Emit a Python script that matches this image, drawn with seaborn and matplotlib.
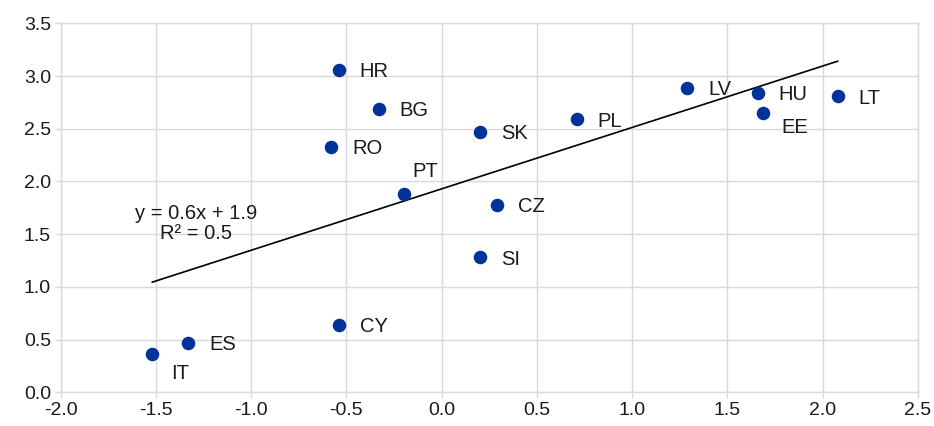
import matplotlib
matplotlib.use("Agg")
import matplotlib.pyplot as plt
import seaborn as sns
import pandas as pd

# Country codes and their coordinates
countries = ["HR", "BG", "RO", "PT", "SK", "PL", "LV", "HU", "EE", "LT",
             "CZ", "SI", "CY", "ES", "IT"]
x_vals = [-0.54, -0.33, -0.58, -0.20, 0.20, 0.71, 1.29, 1.66, 1.69, 2.08,
          0.29, 0.20, -0.54, -1.33, -1.52]
y_vals = [3.06, 2.69, 2.33, 1.88, 2.47, 2.59, 2.89, 2.84, 2.65, 2.81,
          1.78, 1.28, 0.64, 0.47, 0.36]

equation_text = "y = 0.6x + 1.9\nR² = 0.5"

x_ticks = [-2.0, -1.5, -1.0, -0.5, 0.0, 0.5, 1.0, 1.5, 2.0, 2.5]
y_ticks = [0.0, 0.5, 1.0, 1.5, 2.0, 2.5, 3.0, 3.5]

df = pd.DataFrame({"country": countries, "x": x_vals, "y": y_vals})

sns.set_theme(style="whitegrid")
plt.rcParams["font.family"] = ["Liberation Sans", "DejaVu Sans"]

grid_col = "#d9d9d9"
point_col = "#003399"
text_col = "#1a1a1a"

fig = plt.figure(figsize=(9.34, 4.26), dpi=100)
ax = fig.add_axes([0.065, 0.079, 0.9176, 0.8663])

sns.regplot(data=df, x="x", y="y", scatter=False, ci=None, truncate=True,
            line_kws={"color": "black", "lw": 1.2}, ax=ax)
sns.scatterplot(data=df, x="x", y="y", s=95, color=point_col,
                edgecolor=point_col, linewidth=0, zorder=3, ax=ax)

# Label offsets in pixels (default: to the right of the point)
offsets = {"PT": (9, 23), "IT": (19, -19), "EE": (18, -15)}
for c, xv, yv in zip(countries, x_vals, y_vals):
    dx, dy = offsets.get(c, (21, -2))
    ax.annotate(c, (xv, yv), xytext=(dx, dy), textcoords="offset pixels",
                ha="left", va="center", fontsize=14.5, color=text_col)

ax.text(-1.29, 1.60, equation_text, ha="center", va="center",
        multialignment="center", fontsize=14.5, color=text_col,
        linespacing=1.1)

ax.set_xlim(-2.0, 2.5)
ax.set_ylim(0.0, 3.5)
ax.set_xticks(x_ticks)
ax.set_yticks(y_ticks)
ax.set_xticklabels([f"{t:.1f}" for t in x_ticks])
ax.set_yticklabels([f"{t:.1f}" for t in y_ticks])
ax.set_xlabel("")
ax.set_ylabel("")

ax.grid(True, color=grid_col, linewidth=1.0)
for sp in ax.spines.values():
    sp.set_visible(True)
    sp.set_color(grid_col)
    sp.set_linewidth(1.0)
ax.tick_params(axis="both", which="both", length=4, width=1.0, color=grid_col,
               labelsize=14, labelcolor=text_col, pad=3, bottom=True, left=True)

fig.savefig("out.png", dpi=100)
